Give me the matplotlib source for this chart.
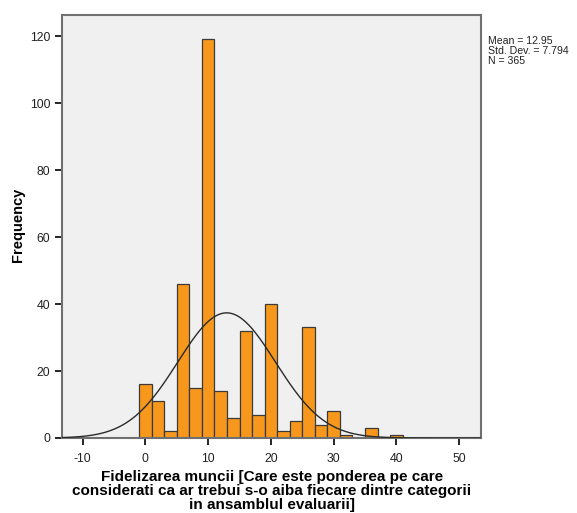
import numpy as np
import matplotlib.pyplot as plt

plt.rcParams['font.family'] = ['Liberation Sans', 'DejaVu Sans']
plt.rcParams['axes.unicode_minus'] = False

# histogram bins (centres, width 2) and counts
bin_centers = [0, 2, 4, 6, 8, 10, 12, 14, 16, 18, 20, 22, 24, 26, 28, 30, 32, 34, 36, 38, 40]
counts = [16, 11, 2, 46, 15, 119, 14, 6, 32, 7, 40, 2, 5, 33, 4, 8, 1, 0, 3, 0, 1]
bin_width = 2
mean = 12.95
std = 7.794
n = 365

xticks = [-10, 0, 10, 20, 30, 40, 50]
yticks = [0, 20, 40, 60, 80, 100, 120]
xlabel_lines = ['Fidelizarea muncii [Care este ponderea pe care',
                'considerati ca ar trebui s-o aiba fiecare dintre categorii',
                'in ansamblul evaluarii]']

fig = plt.figure(figsize=(5.77, 5.13), dpi=100)
ax = fig.add_axes([62 / 577, 1 - 438 / 513, (481 - 62) / 577, (438 - 15) / 513])
ax.set_facecolor('#f0f0f0')

ax.bar(bin_centers, counts, width=bin_width, color='#f7981d',
       edgecolor='#3a3a3a', linewidth=0.9, zorder=2)

xs = np.linspace(-13.3, 53.5, 400)
curve = n * bin_width * np.exp(-0.5 * ((xs - mean) / std) ** 2) / (std * np.sqrt(2 * np.pi))
ax.plot(xs, curve, color='#2a2a2a', linewidth=1.0, zorder=3)

ax.set_xlim(-13.3, 53.5)
ax.set_ylim(0, 126.3)
ax.set_xticks(xticks)
ax.set_yticks(yticks)
ax.tick_params(axis='both', direction='out', length=5, width=1.2, color='black',
               labelsize=8.8, labelcolor='#222222')
ax.tick_params(axis='x', pad=6)
for s in ax.spines.values():
    s.set_color('#707070')
    s.set_linewidth(1.5)

fig.text(18 / 577, 1 - 225 / 513, 'Frequency', rotation=90, fontsize=10.5,
         fontweight='bold', ha='center', va='center')
for i, line in enumerate(xlabel_lines):
    fig.text(272 / 577, 1 - (477 + 14.2 * i) / 513, line, fontsize=11,
             fontweight='bold', ha='center', va='center')

fig.text(488 / 577, 1 - 36 / 513,
         'Mean = %.2f\nStd. Dev. = %.3f\nN = %d' % (mean, std, n),
         fontsize=7.6, va='top', ha='left', linespacing=1.0, color='#222222')

fig.savefig('out.png', dpi=100)
